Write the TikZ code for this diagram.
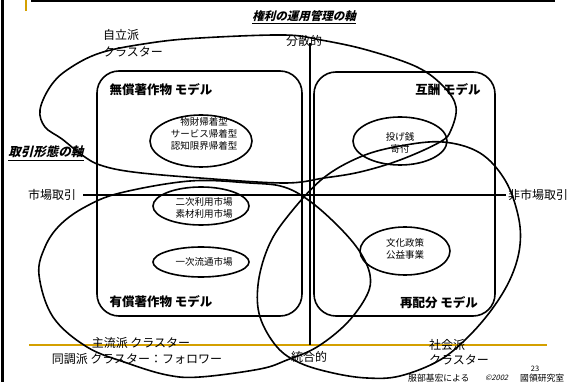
\documentclass[tikz,border=0pt]{standalone}
\usepackage{fontspec}
\newfontfamily\cjk{Noto Sans CJK JP}
\newfontfamily\cjkslant{Noto Sans CJK JP}[FakeSlant=0.25]
\usetikzlibrary{shapes.geometric,calc}
\definecolor{gold}{RGB}{212,160,0}
\tikzset{
  lbl/.style={font=\cjk\fontsize{12}{14}\selectfont, inner sep=0pt},
  model/.style={font=\cjk\bfseries\fontsize{12.5}{14}\selectfont, inner sep=0pt},
  small/.style={font=\cjk\fontsize{9.5}{12}\selectfont, inner sep=0pt, align=center},
  foot/.style={font=\cjk\fontsize{8.8}{10}\selectfont, inner sep=0pt, anchor=west},
  ln/.style={line width=1.6pt},
  box/.style={line width=1.6pt, rounded corners=22pt},
  cluster/.style={line width=1.6pt}
}
\begin{document}
\begin{tikzpicture}[x=1pt,y=-1pt]
\useasboundingbox (0,0) rectangle (568,382);
\fill[white] (0,0) rectangle (568,382);
% frame bits
\draw[line width=3pt] (2.5,0) -- (2.5,382);
\draw[line width=2pt] (31,1) -- (555,1);
\draw[gold, line width=2pt] (26,0) -- (26,11);
\draw[gold, line width=1.8pt] (29,345) -- (547,345);
% titles
\node[font=\cjkslant\bfseries\fontsize{11.5}{13}\selectfont, inner sep=0pt] (t1) at (304,16) {権利の運用管理の軸};
\draw[line width=0.8pt] ($(t1.south west)+(0,2)$) -- ($(t1.south east)+(0,2)$);
\node[font=\cjkslant\bfseries\fontsize{12.5}{14}\selectfont, inner sep=0pt] (t2) at (46,152) {取引形態の軸};
\draw[line width=0.8pt] ($(t2.south west)+(0,2)$) -- ($(t2.south east)+(0,2)$);
% axes
\coordinate (vt) at (310,43);
\coordinate (vb) at (310,345);
\coordinate (hl) at (83,195);
\coordinate (hr) at (506,195);
\draw[ln] (vt) -- (vb);
\draw[ln] (hl) -- (hr);
\node[lbl] (bunsan) at (304,41) {分散的};
\node[lbl] (togo) at (309,357) {統合的};
\node[lbl] (shijo) at (52,195) {市場取引};
\node[lbl, anchor=west] (hishijo) at (508,195) {非市場取引};
% boxes
\draw[box] (97,71) rectangle (302,316);
\draw[box] (314,72) rectangle (495,316);
\node[model] (m1) at (161,90) {無償著作物 モデル};
\node[model] (m2) at (448,90) {互酬 モデル};
\node[model] (m3) at (161,302) {有償著作物 モデル};
\node[model] (m4) at (439,303) {再配分 モデル};
% small ovals
\draw[ln] (201,141) ellipse [x radius=51pt, y radius=26pt];
\node[small] (o1) at (204,134) {物財帰着型\\サービス帰着型\\認知限界帰着型};
\draw[ln] (201,206) ellipse [x radius=48pt, y radius=19pt];
\node[small] (o2) at (204,207.5) {二次利用市場\\素材利用市場};
\draw[ln] (201,262) ellipse [x radius=48pt, y radius=15pt];
\node[small] (o3) at (204,262) {一次流通市場};
\draw[ln] (400,141) ellipse [x radius=47pt, y radius=24pt];
\node[small] (o4) at (400,143) {投げ銭\\寄付};
\draw[ln] (405,251) ellipse [x radius=45pt, y radius=24pt];
\node[small] (o5) at (405,249) {文化政策\\公益事業};
% clusters
\draw[cluster] plot[smooth cycle, tension=0.6] coordinates {(40,110) (50,87) (67,70) (100,53) (150,43) (200,38) (284,35) (321,40) (367,50) (417,67) (444,87) (456,107) (451,130) (440,142) (400,160) (360,172) (324,178) (284,183) (200,178) (133,172) (100,165) (82,155) (62,139) (45,127)};
\draw[cluster] plot[smooth cycle, tension=0.6] coordinates {(39,275) (45,247) (60,225) (85,207) (120,193) (190,181) (250,183) (284,187) (311,202) (340,228) (360,252) (370,275) (367,295) (347,323) (317,347) (287,360) (260,369) (200,377) (167,375) (127,363) (87,347) (53,317)};
\draw[cluster] plot[smooth cycle, tension=0.6] coordinates {(267,250) (284,221) (321,180) (360,157) (400,146) (443,142) (480,153) (505,180) (518,215) (520,245) (512,275) (495,305) (470,335) (440,360) (400,376) (367,378) (333,373) (300,363) (277,347) (260,317) (258,285)};
% cluster labels
\node[lbl, anchor=west] (jiritsu) at (103,35) {自立派};
\node[lbl, anchor=west] (jiritsu2) at (103,52) {クラスター};
\node[lbl] (shuryu) at (141,343) {主流派 クラスター};
\node[lbl] (docho) at (137,359) {同調派 クラスター：フォロワー};
\node[lbl, anchor=west] (shakai) at (429,345) {社会派};
\node[lbl, anchor=west] (shakai2) at (429,360) {クラスター};
% footer
\node[font=\cjk\fontsize{7.5}{8}\selectfont, inner sep=0pt] (pg) at (535,369) {23};
\node[foot] (cr1) at (408,378) {服部基宏による};
\node[foot, font=\cjkslant\fontsize{7.5}{8}\selectfont] (cr2) at (485,378) {©2002};
\node[foot] (cr3) at (520,378) {國領研究室};
\end{tikzpicture}
\end{document}
